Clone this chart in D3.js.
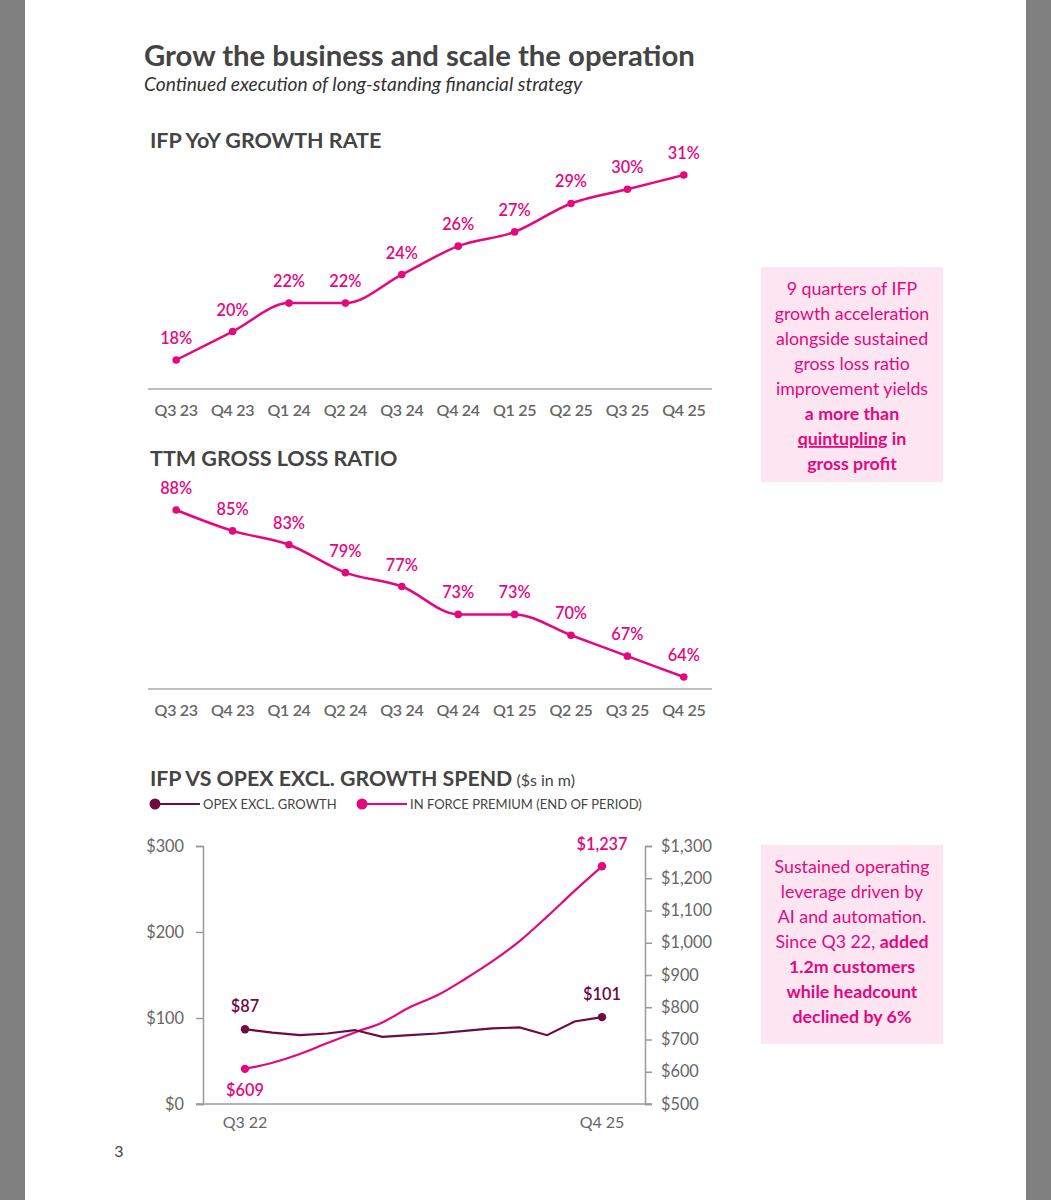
<!DOCTYPE html>
<html>
<head>
<meta charset="utf-8">
<script src="https://cdn.jsdelivr.net/npm/d3@7"></script>
<style>
  body { margin: 0; background: #fff; }
  text { font-family: Lato, "Open Sans", sans-serif; }
</style>
</head>
<body>
<script>
// data
var quarters = ["Q3 23","Q4 23","Q1 24","Q2 24","Q3 24","Q4 24","Q1 25","Q2 25","Q3 25","Q4 25"]
var ifpGrowth = [18,20,22,22,24,26,27,29,30,31]
var grossLoss = [88,85,83,79,77,73,73,70,67,64]

var quarters3 = ["Q3 22","Q4 22","Q1 23","Q2 23","Q3 23","Q4 23","Q1 24","Q2 24","Q3 24","Q4 24","Q1 25","Q2 25","Q3 25","Q4 25"]
var opex = [87,83,80,82,86,78,80,82,85,88,89,80,96,101]
var ifp = [609,628,655,689,722,753,800,837,887,942,1005,1081,1161,1237]
var leftTicks = [0,100,200,300]
var rightTicks = [500,600,700,800,900,1000,1100,1200,1300]
var xLabels3 = ["Q3 22","Q4 25"]

var box1 = [
  [{t:"9 quarters of IFP"}],
  [{t:"growth acceleration"}],
  [{t:"alongside sustained"}],
  [{t:"gross loss ratio"}],
  [{t:"improvement yields"}],
  [{t:"a more than", b:1}],
  [{t:"quintupling", b:1, u:1},{t:" in", b:1}],
  [{t:"gross profit", b:1}]
]
var box2 = [
  [{t:"Sustained operating"}],
  [{t:"leverage driven by"}],
  [{t:"AI and automation."}],
  [{t:"Since Q3 22, "},{t:"added", b:1}],
  [{t:"1.2m customers", b:1}],
  [{t:"while headcount", b:1}],
  [{t:"declined by 6%", b:1}]
]

var pink = "#e4087f"
var dark = "#6e0b40"
var gray = "#9a9a9a"
var tickColor = "#666"

var svg = d3.select("body").append("svg")
  .attr("width", 1051)
  .attr("height", 1200)

// page frame
svg.append("rect").attr("x",0).attr("y",0).attr("width",1051).attr("height",1200).style("fill","#fff")
svg.append("rect").attr("x",0).attr("y",0).attr("width",25).attr("height",1200).style("fill","#808080")
svg.append("rect").attr("x",1026).attr("y",0).attr("width",25).attr("height",1200).style("fill","#808080")

// title
svg.append("text").attr("x",144).attr("y",66)
  .text("Grow the business and scale the operation")
  .style("font-size","29.3px").style("font-weight",700).style("fill","#444")
svg.append("text").attr("x",144).attr("y",91)
  .text("Continued execution of long-standing financial strategy")
  .style("font-size","19.2px").style("font-style","italic").style("fill","#333")

// small line charts
function smallChart(values, yDomain, yRange, axisY, title, titleY){
  var x = d3.scalePoint().domain(quarters).range([148,712]).padding(0.5)
  var y = d3.scaleLinear().domain(yDomain).range(yRange)
  var g = svg.append("g")

  g.append("text").attr("x",150).attr("y",titleY).text(title)
    .style("font-size","21.5px").style("font-weight",700).style("fill","#444")

  g.append("line").attr("x1",148).attr("x2",712).attr("y1",axisY).attr("y2",axisY)
    .style("stroke","#aaa").style("stroke-width",1.5)

  g.selectAll(".tl").data(quarters).enter().append("text")
    .attr("x", function(d){return x(d)})
    .attr("y", axisY+27)
    .attr("text-anchor","middle")
    .text(function(d){return d})
    .style("font-size","16px").style("font-weight",600).style("fill",tickColor)
    .style("letter-spacing","-0.3px")

  var line = d3.line()
    .x(function(d,i){return x(quarters[i])})
    .y(function(d){return y(d)})
    .curve(d3.curveMonotoneX)

  g.append("path").datum(values).attr("d",line)
    .style("fill","none").style("stroke",pink).style("stroke-width",2.5)

  g.selectAll(".pt").data(values).enter().append("circle")
    .attr("cx", function(d,i){return x(quarters[i])})
    .attr("cy", function(d){return y(d)})
    .attr("r",3.8).style("fill",pink)

  g.selectAll(".vl").data(values).enter().append("text")
    .attr("x", function(d,i){return x(quarters[i])})
    .attr("y", function(d){return y(d)-16})
    .attr("text-anchor","middle")
    .text(function(d){return d+"%"})
    .style("font-size","16.3px").style("font-weight",600).style("fill",pink)
}

smallChart(ifpGrowth, [18,31], [360,175], 389, "IFP YoY GROWTH RATE", 148)
smallChart(grossLoss, [88,64], [510,677], 689, "TTM GROSS LOSS RATIO", 466)

// third chart
var t3 = svg.append("text").attr("x",150).attr("y",786)
  .style("fill","#444")
t3.append("tspan").text("IFP VS OPEX EXCL. GROWTH SPEND")
  .style("font-size","21.3px").style("font-weight",700)
t3.append("tspan").text(" ($s in m)").style("font-size","16px")

// legend
var legend = [
  {name:"OPEX EXCL. GROWTH", color:dark, x:155},
  {name:"IN FORCE PREMIUM (END OF PERIOD)", color:pink, x:362}
]
legend.forEach(function(l){
  svg.append("line").attr("x1",l.x).attr("x2",l.x+45).attr("y1",804).attr("y2",804)
    .style("stroke",l.color).style("stroke-width",2)
  svg.append("circle").attr("cx",l.x).attr("cy",804).attr("r",5.5).style("fill",l.color)
  svg.append("text").attr("x",l.x+48).attr("y",808.5).text(l.name)
    .style("font-size","13px").style("fill","#444")
})

var x3 = d3.scalePoint().domain(quarters3).range([245,602])
var yL = d3.scaleLinear().domain([0,300]).range([1104,846])
var yR = d3.scaleLinear().domain([500,1300]).range([1104,846])

var leftAxis = svg.append("g").attr("transform","translate(203,0)")
  .call(d3.axisLeft(yL).tickValues(leftTicks).tickSize(7).tickSizeOuter(7).tickPadding(12)
    .tickFormat(function(d){return "$"+d}))
var rightAxis = svg.append("g").attr("transform","translate(645,0)")
  .call(d3.axisRight(yR).tickValues(rightTicks).tickSize(7).tickSizeOuter(7).tickPadding(9)
    .tickFormat(function(d){return "$"+d3.format(",")(d)}))
;[leftAxis,rightAxis].forEach(function(a){
  a.selectAll("path,line").style("stroke",gray).style("stroke-width",1.5)
  a.selectAll("text").style("font-size","16.3px").style("fill",tickColor)
    .style("font-family","Lato, sans-serif")
})

svg.append("line").attr("x1",196).attr("x2",652).attr("y1",yL(0)).attr("y2",yL(0))
  .style("stroke",gray).style("stroke-width",1.5)

svg.selectAll(".xl3").data(xLabels3).enter().append("text")
  .attr("x", function(d){return x3(d)})
  .attr("y", 1128)
  .attr("text-anchor","middle")
  .text(function(d){return d})
  .style("font-size","16px").style("fill",tickColor)

var ifpLine = d3.line()
  .x(function(d,i){return x3(quarters3[i])})
  .y(function(d){return yR(d)})
  .curve(d3.curveMonotoneX)
var opexLine = d3.line()
  .x(function(d,i){return x3(quarters3[i])})
  .y(function(d){return yL(d)})

svg.append("path").datum(ifp).attr("d",ifpLine)
  .style("fill","none").style("stroke",pink).style("stroke-width",2.2)
svg.append("path").datum(opex).attr("d",opexLine)
  .style("fill","none").style("stroke",dark).style("stroke-width",2.2)

var last = quarters3.length-1
var ends = [
  {v:opex[0], q:quarters3[0], s:yL, c:dark, dy:-17},
  {v:opex[last], q:quarters3[last], s:yL, c:dark, dy:-17},
  {v:ifp[0], q:quarters3[0], s:yR, c:pink, dy:27},
  {v:ifp[last], q:quarters3[last], s:yR, c:pink, dy:-16}
]
ends.forEach(function(e){
  svg.append("circle").attr("cx",x3(e.q)).attr("cy",e.s(e.v)).attr("r",4.2).style("fill",e.c)
  svg.append("text").attr("x",x3(e.q)).attr("y",e.s(e.v)+e.dy)
    .attr("text-anchor","middle")
    .text("$"+d3.format(",")(e.v))
    .style("font-size","16.3px").style("font-weight",600).style("fill",e.c)
})

// callout boxes
function callout(lines, top, height){
  svg.append("rect").attr("x",761).attr("y",top).attr("width",182).attr("height",height)
    .style("fill","#fde6f2")
  lines.forEach(function(parts,i){
    var t = svg.append("text").attr("x",852).attr("y",top+28+i*25)
      .attr("text-anchor","middle")
      .style("font-size","17.8px").style("fill",pink)
    parts.forEach(function(p){
      var sp = t.append("tspan").text(p.t)
        .style("font-weight", p.b ? 700 : 400)
      if (p.u) sp.style("text-decoration","underline")
    })
  })
}
callout(box1, 267, 215)
callout(box2, 845, 199)

// page number
svg.append("text").attr("x",119).attr("y",1157).attr("text-anchor","middle")
  .text("3").style("font-size","16px").style("fill","#444")
</script>
</body>
</html>
